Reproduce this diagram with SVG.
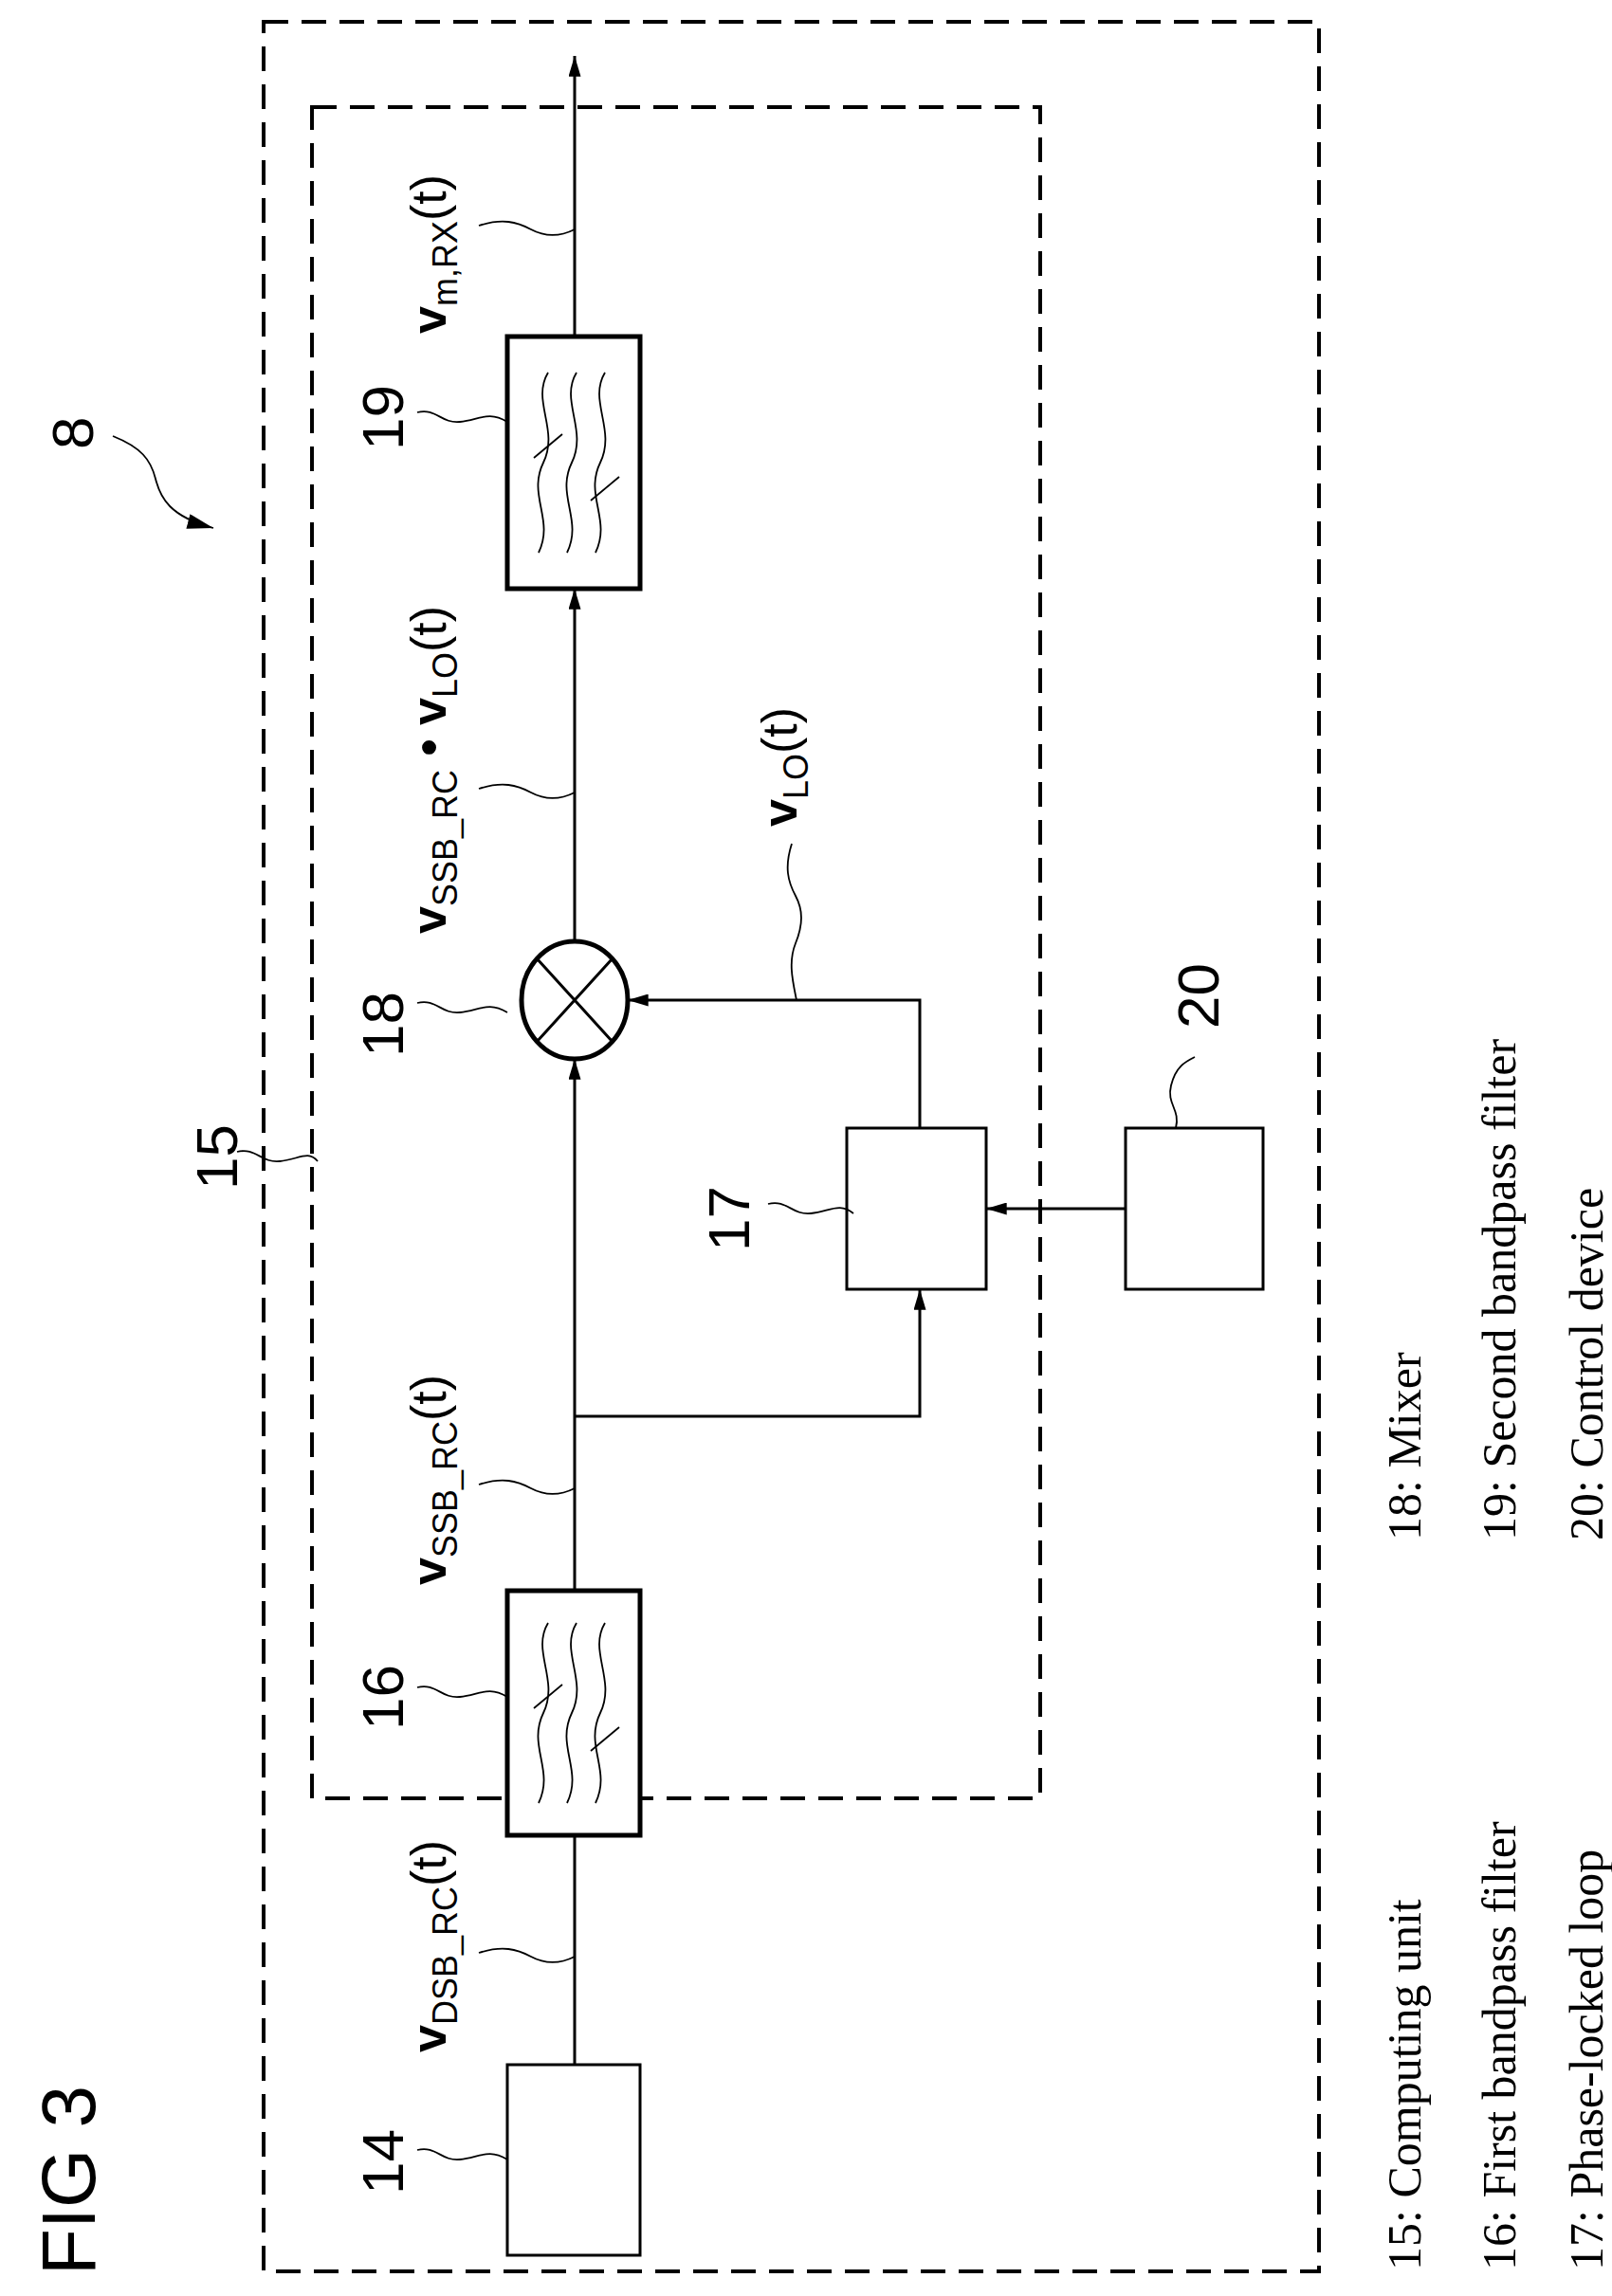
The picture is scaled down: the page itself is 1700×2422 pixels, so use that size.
<svg xmlns="http://www.w3.org/2000/svg" width="1700" height="2422" viewBox="0 0 1700 2422">
<style>
.dash{fill:none;stroke:#000;stroke-width:4;stroke-dasharray:26 14}
.box{fill:#fff;stroke:#000;stroke-width:3}
.fbox{fill:#fff;stroke:#000;stroke-width:5}
.ln{fill:none;stroke:#000;stroke-width:3}
.th{fill:none;stroke:#000;stroke-width:1.8}
.s{font-family:"Liberation Sans",Arial,sans-serif;fill:#000}
.num{font-family:"Liberation Sans",Arial,sans-serif;font-size:62px;fill:#000}
.leg{font-family:"Liberation Serif","Times New Roman",serif;font-size:50px;fill:#000}
</style>
<defs>
<marker id="ah" viewBox="0 0 24 14" refX="24" refY="7" markerWidth="28" markerHeight="16" orient="auto" markerUnits="userSpaceOnUse"><path d="M0 0L24 7L0 14Z" fill="#000"/></marker>
<marker id="a" viewBox="0 0 20 12" refX="20" refY="6" markerWidth="22" markerHeight="13" orient="auto" markerUnits="userSpaceOnUse"><path d="M0 0L20 6L0 12Z" fill="#000"/></marker>
<g id="wav">
<path class="th" d="M-30 -95 c-18 30 12 60 -5 95 s12 60 -5 95"/>
<path class="th" d="M0 -95 c-18 30 12 60 -5 95 s12 60 -5 95"/>
<path class="th" d="M30 -95 c-18 30 12 60 -5 95 s12 60 -5 95"/>
<path class="th" d="M-45 -5 l30 -25"/>
<path class="th" d="M15 40 l30 -25"/>
</g>
</defs>
<text class="s" font-size="80" transform="translate(100,2400) rotate(-90)">FIG 3</text>
<g id="frames">
<rect class="dash" x="278" y="23" width="1113" height="2373"/>
<rect class="dash" x="329" y="113" width="768" height="1784"/>
</g>
<g id="connectors">
<line class="ln" x1="606" y1="2178" x2="606" y2="1678" marker-end="url(#a)"/>
<line class="ln" x1="606" y1="1678" x2="606" y2="1117" marker-end="url(#a)"/>
<line class="ln" x1="606" y1="993" x2="606" y2="621" marker-end="url(#a)"/>
<line class="ln" x1="606" y1="355" x2="606" y2="59" marker-end="url(#a)"/>
<polyline class="ln" points="606,1494 970,1494 970,1360" marker-end="url(#a)"/>
<polyline class="ln" points="970,1190 970,1055 662,1055" marker-end="url(#a)"/>
<line class="ln" x1="1187" y1="1275" x2="1040" y2="1275" marker-end="url(#a)"/>
</g>
<g id="n19"><rect class="fbox" x="535" y="355" width="140" height="266"/><use href="#wav" x="608" y="488"/></g>
<g id="n16"><rect class="fbox" x="535" y="1678" width="140" height="258"/><use href="#wav" x="608" y="1807"/></g>
<g id="n18"><ellipse class="fbox" cx="606" cy="1055" rx="56" ry="62"/><path class="ln" d="M566 1011 L646 1099 M646 1011 L566 1099"/></g>
<g id="n14"><rect class="box" x="535" y="2178" width="140" height="201"/></g>
<g id="n17"><rect class="box" x="893" y="1190" width="147" height="170"/></g>
<g id="n20"><rect class="box" x="1187" y="1190" width="145" height="170"/></g>
<g id="leaders">
<path class="th" d="M440 2268 c20 -5 25 12 45 10 s30 -12 50 0"/>
<path class="th" d="M440 1780 c20 -5 25 12 45 10 s30 -12 50 0"/>
<path class="th" d="M440 1058 c20 -5 25 12 45 10 s30 -12 50 0"/>
<path class="th" d="M440 435 c20 -5 25 12 45 10 s30 -12 50 0"/>
<path class="th" d="M810 1270 c20 -5 25 12 45 10 s30 -12 45 0"/>
<path class="th" d="M1240 1190 c5 -20 -10 -25 -5 -45 s15 -25 25 -30"/>
<path class="th" d="M250 1215 c20 -5 25 12 45 10 s30 -12 40 0"/>
<path class="th" d="M505 238 c25 -8 40 -4 55 4 s30 8 46 0"/>
<path class="th" d="M505 832 c25 -8 40 -4 55 4 s30 8 46 0"/>
<path class="th" d="M505 1566 c25 -8 40 -4 55 4 s30 8 46 0"/>
<path class="th" d="M505 2060 c25 -8 40 -4 55 4 s30 8 46 0"/>
<path class="th" d="M835 890 c-8 25 -4 40 4 55 s8 30 0 50 s-3 40 1 60"/>
<path class="th" d="M119 460 c30 12 40 25 45 45 s15 40 61 52" marker-end="url(#ah)"/>
</g>
<g id="labels">
<text class="num" transform="translate(425,2315) rotate(-90)">14</text>
<text class="num" transform="translate(425,1825) rotate(-90)">16</text>
<text class="num" transform="translate(425,1115) rotate(-90)">18</text>
<text class="num" transform="translate(425,475) rotate(-90)">19</text>
<text class="num" transform="translate(790,1320) rotate(-90)">17</text>
<text class="num" transform="translate(1285,1085) rotate(-90)">20</text>
<text class="num" transform="translate(250,1255) rotate(-90)">15</text>
<text class="num" font-size="66" transform="translate(98,474) rotate(-90)">8</text>
<text class="s" font-size="52" transform="translate(470,352) rotate(-90)"><tspan font-weight="bold">v</tspan><tspan font-size="36" dy="12">m,RX</tspan><tspan dy="-12">(t)</tspan></text>
<text class="s" font-size="52" transform="translate(470,985) rotate(-90)"><tspan font-weight="bold">v</tspan><tspan font-size="36" dy="12">SSB_RC</tspan><tspan dy="-12" font-weight="bold"> • v</tspan><tspan font-size="36" dy="12">LO</tspan><tspan dy="-12">(t)</tspan></text>
<text class="s" font-size="52" transform="translate(840,872) rotate(-90)"><tspan font-weight="bold">v</tspan><tspan font-size="36" dy="12">LO</tspan><tspan dy="-12">(t)</tspan></text>
<text class="s" font-size="52" transform="translate(470,1672) rotate(-90)"><tspan font-weight="bold">v</tspan><tspan font-size="36" dy="12">SSB_RC</tspan><tspan dy="-12">(t)</tspan></text>
<text class="s" font-size="52" transform="translate(470,2165) rotate(-90)"><tspan font-weight="bold">v</tspan><tspan font-size="36" dy="12">DSB_RC</tspan><tspan dy="-12">(t)</tspan></text>
</g>
<g id="legend">
<text class="leg" transform="translate(1498,2395) rotate(-90)">15: Computing unit</text>
<text class="leg" transform="translate(1598,2395) rotate(-90)">16: First bandpass filter</text>
<text class="leg" transform="translate(1690,2395) rotate(-90)">17: Phase-locked loop</text>
<text class="leg" transform="translate(1498,1625) rotate(-90)">18: Mixer</text>
<text class="leg" transform="translate(1598,1625) rotate(-90)">19: Second bandpass filter</text>
<text class="leg" transform="translate(1690,1625) rotate(-90)">20: Control device</text>
</g>
</svg>
